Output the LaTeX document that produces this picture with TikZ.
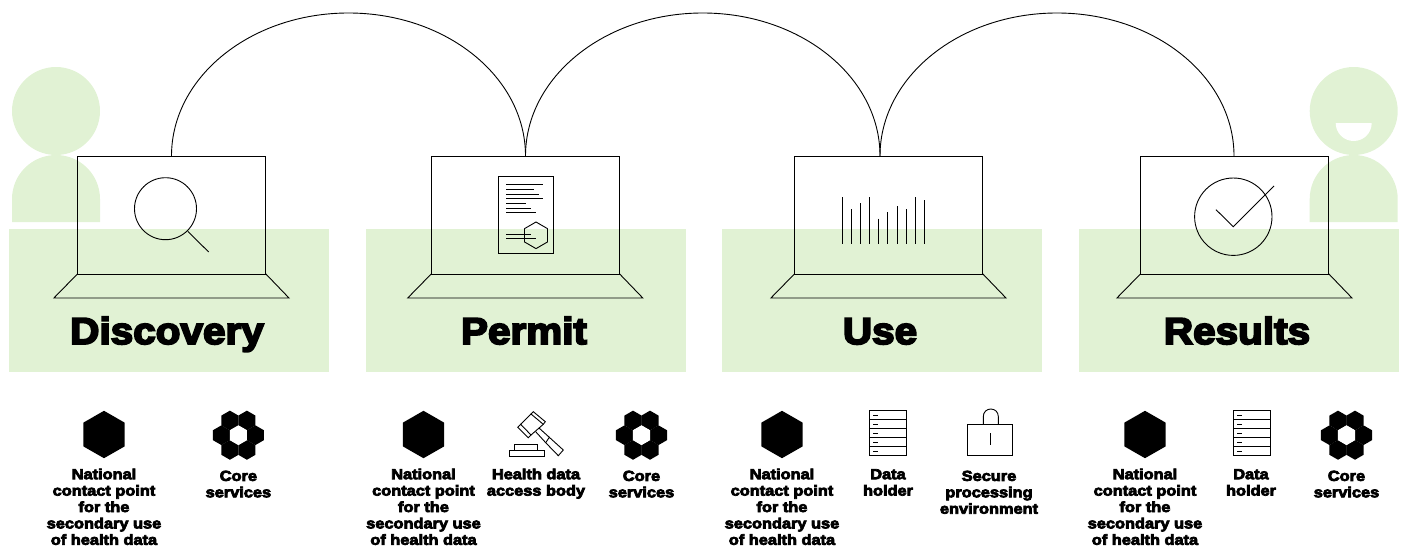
\documentclass[tikz,border=0pt]{standalone}
\usepackage{fontspec}
\usetikzlibrary{calc}
\newfontfamily\hv{Liberation Sans}[UprightFont=* Bold,FakeBold=5,FakeStretch=1.08]
\newfontfamily\hvs{Liberation Sans}[UprightFont=* Bold,FakeBold=5,FakeStretch=1.12]
\definecolor{bandgreen}{HTML}{E1F2D4}
\tikzset{
  ln/.style={draw=black,line width=0.9pt,line join=miter},
  bar/.style={ln,line cap=butt},
  band/.style={fill=bandgreen,draw=none},
  screen/.style={ln,fill=none},
  titlet/.style={anchor=base,inner sep=0pt,font=\hv\fontsize{37.5}{40}\selectfont},
  lbl/.style={anchor=north,inner sep=0pt,align=center,font=\hvs\fontsize{14.6}{16.4}\selectfont},
}
\newcommand{\hexa}[4]{\path[#4] (#1,#2) +(90:#3) -- +(150:#3) -- +(210:#3) -- +(270:#3) -- +(330:#3) -- +(30:#3) -- cycle;}
\newcommand{\natl}[2]{%
  \fill[black] (#1,410.8) -- (#1+20.6,422.6) -- (#1+20.6,446.4) -- (#1,458.2) -- (#1-20.6,446.4) -- (#1-20.6,422.6) -- cycle;
  \node[lbl] (ncp#2) at (#1,467) {\rule{0pt}{12pt}National\\contact point\\for the\\secondary use\\of health data};}
\newcommand{\core}[3]{%
  \foreach \cx/\cy in {-8.5/-14.7,8.5/-14.7,-17/0,17/0,-8.5/14.7,8.5/14.7}{\hexa{#1+\cx}{435.2+\cy}{9.85}{fill=black}}
  \hexa{#1}{435.2}{9.9}{fill=white}
  \node[lbl] (core#2) at (#1,#3) {\rule{0pt}{12pt}Core\\services};}
\newcommand{\holder}[3]{%
  \foreach \r in {0,1,2,3,4}{
    \draw[ln] (#1,410.9+9*\r) rectangle (#1+37.4,419.9+9*\r);
    \draw[bar] (#1+4,415.4+9*\r) -- (#1+9,415.4+9*\r);}
  \node[lbl] (dh#2) at (#3,467) {\rule{0pt}{12pt}Data\\holder};}
\newcommand{\laptop}[2]{%
  \node[screen,minimum width=188.4pt,minimum height=117.9pt,inner sep=0pt,anchor=north west] (lap#2) at (#1,155.6) {};
  \draw[ln] (lap#2.south west) ++(0.45,-0.45) -- ++(-23.5,24) -- ++(235,0) -- ($(lap#2.south east)+(-0.45,-0.45)$);}
\begin{document}
\begin{tikzpicture}[x=1pt,y=-1pt]
\useasboundingbox (0,0) rectangle (1405,546);
% bands
\foreach \bx in {9,366,722,1079}{\fill[band] (\bx,229) rectangle (\bx+320,372);}
% persons
\fill[bandgreen] (56,111) circle[radius=44];
\fill[bandgreen] (12,222) -- (12,199) .. controls (12,174.7) and (31.7,155) .. (56,155) .. controls (80.3,155) and (100,174.7) .. (100,199) -- (100,222) -- cycle;
\fill[bandgreen] (1353.7,111) circle[radius=44];
\fill[bandgreen] (1309.7,222) -- (1309.7,199) .. controls (1309.7,174.7) and (1329.4,155) .. (1353.7,155) .. controls (1378,155) and (1397.7,174.7) .. (1397.7,199) -- (1397.7,222) -- cycle;
\fill[white] (1335.7,123) -- (1371.7,123) .. controls (1371.7,133) and (1363.7,141) .. (1353.7,141) .. controls (1343.7,141) and (1335.7,133) .. (1335.7,123) -- cycle;
% laptops
\laptop{77}{1}
\laptop{430.8}{2}
\laptop{794}{3}
\laptop{1140}{4}
% joins of the arcs on the screens
\coordinate (j1) at (171.5,156);
\coordinate (j2) at (525.5,156);
\coordinate (j3) at (880,156);
\coordinate (j4) at (1234,156);
\foreach \a/\b in {j1/j2,j2/j3,j3/j4}{
  \draw[ln] (\a) .. controls ($(\a)+(0,-79)$) and ($(\a)!0.2239!(\b)+(0,-143)$) .. ($(\a)!0.5!(\b)+(0,-143)$)
     .. controls ($(\a)!0.7761!(\b)+(0,-143)$) and ($(\b)+(0,-79)$) .. (\b);
}
% magnifier
\draw[ln] (165.5,208.7) circle[radius=31];
\draw[ln] (187.7,231.3) -- (208.7,252);
% document
\draw[ln] (498.7,176) rectangle (553,253.7);
\foreach \ye/\xe in {184.7/543.3,189.3/533.7,194/538.7,198.7/543.3,203.3/526.3,208/531,212.7/536,234/531,238/536}{\draw[bar] (506,\ye) -- (\xe,\ye);}
\hexa{536}{235.3}{13.3}{ln}
% bars
\foreach \bx/\by in {842/197.3,851/209.3,860/203.3,869.3/197.3,878.7/218.7,887.7/212.3,897/206.3,906/209.3,915.3/197.3,924.7/200.3}{\draw[bar] (\bx,\by) -- (\bx,243.7);}
% check
\draw[ln] (1233.3,216.7) circle[radius=38.7];
\draw[ln] (1216,209.7) -- (1233.3,226.7) -- (1274,186);
% titles
\node[titlet] (t1) at (167,344) {Discovery};
\node[titlet] (t2) at (524,344) {Permit};
\node[titlet] (t3) at (880,344) {Use};
\node[titlet] (t4) at (1237,344) {Results};
% icon rows
\natl{104}{1}
\natl{423.5}{2}
\natl{782}{3}
\natl{1145}{4}
\core{238.4}{1}{468.7}
\core{641.5}{2}{468.7}
\core{1346.5}{4}{468.7}
\holder{869.3}{3}{888}
\holder{1233}{4}{1251}
% gavel
\draw[ln] (533.3,411.7) -- (545.3,421.7) -- (543.3,424.3) -- (531,414) -- cycle;
\draw[ln] (520.7,424.3) -- (531,435) -- (528.3,437.7) -- (517.7,427.3) -- cycle;
\draw[ln] (531,414) -- (520.7,424.3) (543.3,424.3) -- (531,435);
\draw[ln] (539,428) -- (549.3,437.3) (535.5,431.5) -- (545.7,442.7);
\draw[ln] (549.3,437.3) -- (563.3,450) -- (558.3,455.7) -- (545.7,442.7) -- cycle;
\draw[ln] (509.3,450.3) rectangle (544,456.3);
\draw[ln] (514.7,444) rectangle (537.3,450.3);
\node[lbl] (hdab) at (536,467) {\rule{0pt}{12pt}Health data\\access body};
% lock
\draw[ln] (967.3,424.3) rectangle (1012.7,455.7);
\draw[ln] (983.3,424.3) -- (983.3,416.5) .. controls (983.3,412) and (986.7,409) .. (990.8,409) .. controls (994.9,409) and (998.3,412) .. (998.3,416.5) -- (998.3,424.3);
\draw[bar] (990.7,433.3) -- (990.7,445);
\node[lbl] (spe) at (989,468.7) {\rule{0pt}{12pt}Secure\\processing\\environment};
\end{tikzpicture}
\end{document}
